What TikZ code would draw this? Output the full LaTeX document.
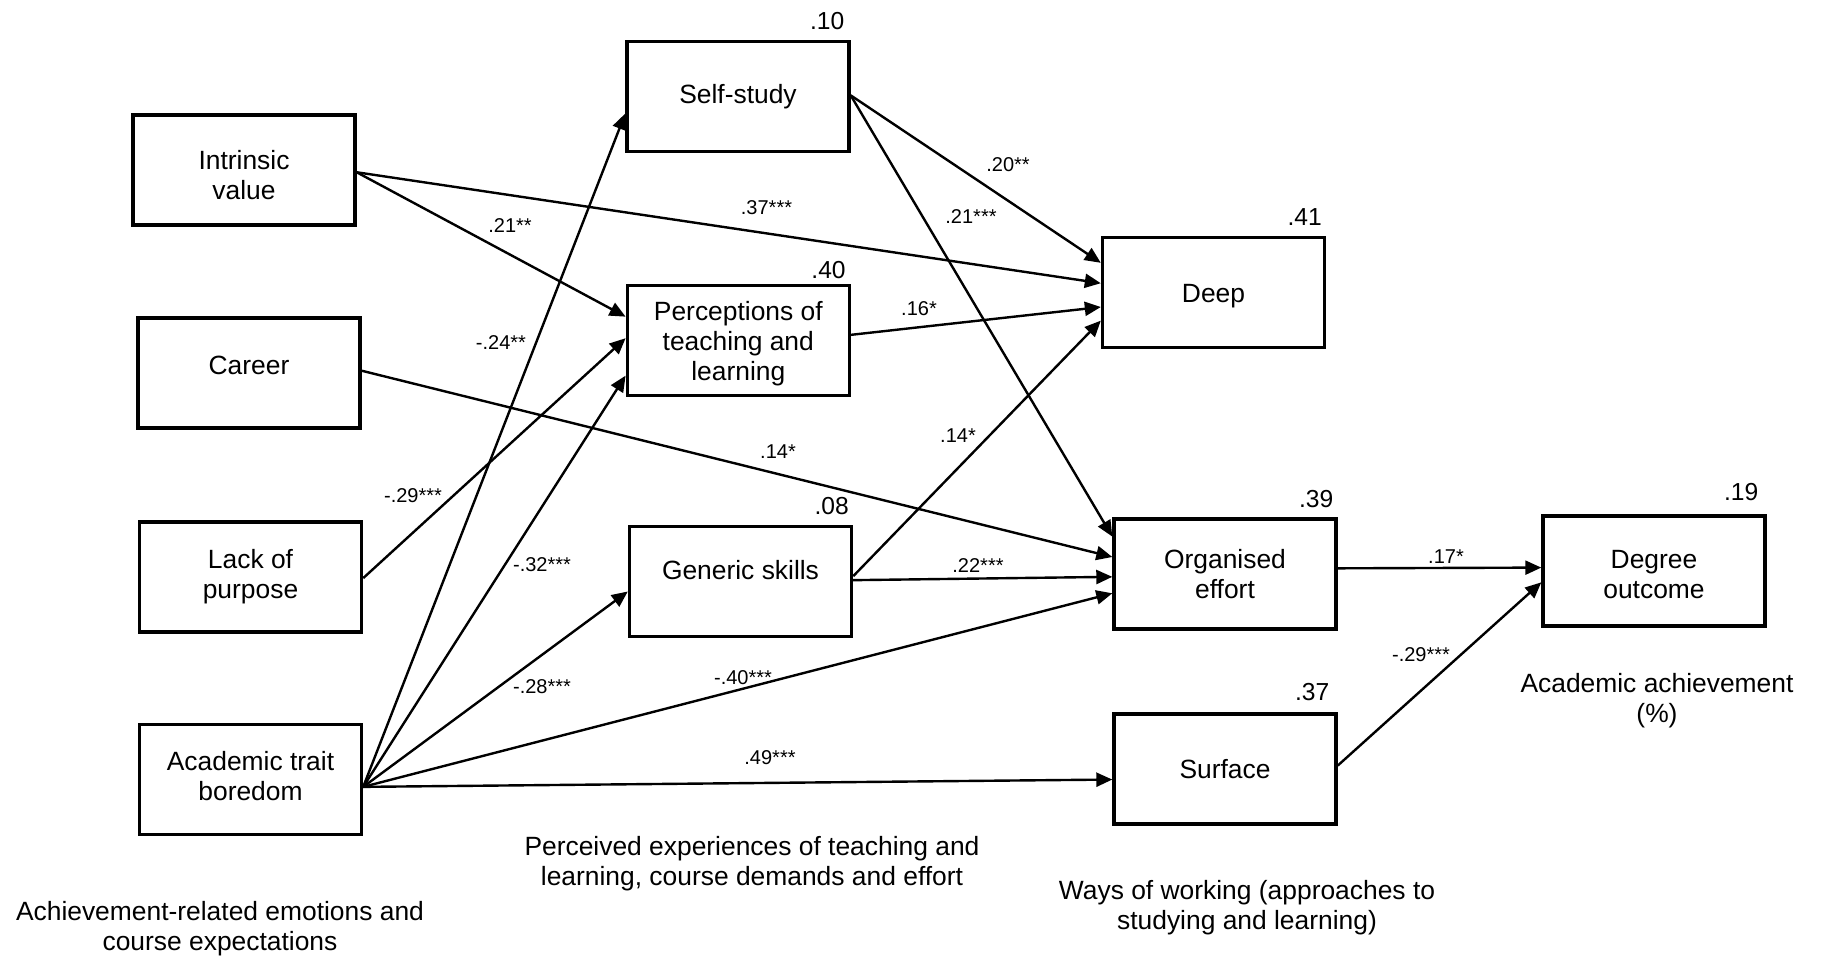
\documentclass[tikz,border=0pt]{standalone}
\usepackage{fontspec}
\setmainfont{Liberation Sans}
\usetikzlibrary{arrows.meta,calc}
\newcommand\vsh[2]{\raisebox{#1}[\height][\depth]{#2}}
\begin{document}
\begin{tikzpicture}[x=0.5pt,y=-0.5pt,
  box/.style={draw,line width=1.7pt,minimum width=111pt,minimum height=55pt,align=center,
    font=\fontsize{13.2}{15}\selectfont,inner sep=0pt},
  arr/.style={line width=1.2pt,-{Triangle[length=8pt,width=7pt]}},
  coef/.style={font=\fontsize{10}{12}\selectfont,inner sep=0pt},
  rsq/.style={font=\fontsize{12.3}{14}\selectfont,inner sep=0pt,anchor=base east},
  capt/.style={font=\fontsize{13.2}{15}\selectfont,align=center,inner sep=0pt}]
\useasboundingbox (0,0) rectangle (1821,956);

% boxes
\node[box] (intr) at (244,170) {\vsh{-2.3pt}{Intrinsic}\\\vsh{-2.3pt}{value}};
\node[box] (car) at (249,373) {\vsh{4pt}{Career}};
\node[box] (lack) at (250.5,577) {Lack of\\purpose};
\node[box] (bor) at (250.5,779.5) {\vsh{1.7pt}{Academic trait}\\\vsh{1.7pt}{boredom}};
\node[box] (self) at (738,96.5) {Self-study};
\node[box] (perc) at (738.3,340.5) {\vsh{-1.4pt}{Perceptions of}\\\vsh{-1.4pt}{teaching and}\\\vsh{-1.4pt}{learning}};
\node[box] (gen) at (740.5,581.3) {\vsh{5.8pt}{Generic skills}};
\node[box] (deep) at (1213.5,292.3) {\vsh{-1.7pt}{Deep}};
\node[box] (org) at (1225,574) {Organised\\effort};
\node[box] (surf) at (1225,769) {Surface};
\node[box] (deg) at (1654,571) {\vsh{-1.7pt}{Degree}\\\vsh{-1.7pt}{outcome}};

% R squared
\node[rsq] (rself) at ($(self.north east)+(-6,-10)$) {.10};
\node[rsq] (rperc) at ($(perc.north east)+(-5,-5)$) {.40};
\node[rsq] (rgen) at ($(gen.north east)+(-4,-10)$) {.08};
\node[rsq] (rdeep) at ($(deep.north east)+(-4,-10)$) {.41};
\node[rsq] (rorg) at ($(org.north east)+(-4,-10)$) {.39};
\node[rsq] (rsurf) at ($(surf.north east)+(-8,-12)$) {.37};
\node[rsq] (rdeg) at ($(deg.north east)+(-8,-14)$) {.19};

% paths
\draw[arr] ($(intr.north east)!0.52!(intr.south east)$) -- ($(deep.north west)!0.42!(deep.south west)$);
\draw[arr] ($(intr.north east)!0.52!(intr.south east)$) -- ($(perc.north west)!0.29!(perc.south west)$);
\draw[arr] ($(self.north east)!0.49!(self.south east)$) -- ($(deep.north west)!0.24!(deep.south west)$);
\draw[arr] ($(self.north east)!0.49!(self.south east)$) -- ($(org.north west)!0.17!(org.south west)$);
\draw[arr] ($(perc.north east)!0.45!(perc.south east)$) -- ($(deep.north west)!0.63!(deep.south west)$);
\draw[arr] ($(car.north east)!0.48!(car.south east)$) -- ($(org.north west)!0.35!(org.south west)$);
\draw[arr] ($(lack.north east)!0.51!(lack.south east)$) -- ($(perc.north west)!0.48!(perc.south west)$);
\draw[arr] ($(bor.north east)!0.565!(bor.south east)$) -- ($(self.north west)!0.65!(self.south west)$);
\draw[arr] ($(bor.north east)!0.565!(bor.south east)$) -- ($(perc.north west)!0.81!(perc.south west)$);
\draw[arr] ($(bor.north east)!0.565!(bor.south east)$) -- ($(gen.north west)!0.59!(gen.south west)$);
\draw[arr] ($(bor.north east)!0.565!(bor.south east)$) -- ($(org.north west)!0.67!(org.south west)$);
\draw[arr] ($(bor.north east)!0.565!(bor.south east)$) -- ($(surf.north west)!0.593!(surf.south west)$);
\draw[arr] ($(gen.north east)!0.455!(gen.south east)$) -- ($(deep.north west)!0.75!(deep.south west)$);
\draw[arr] ($(gen.north east)!0.49!(gen.south east)$) -- ($(org.north west)!0.525!(org.south west)$);
\draw[arr] ($(org.north east)!0.45!(org.south east)$) -- ($(deg.north west)!0.47!(deg.south west)$);
\draw[arr] ($(surf.north east)!0.47!(surf.south east)$) -- ($(deg.north west)!0.6!(deg.south west)$);

% coefficients
\node[coef] (c1) at (766.5,208) {.37***};
\node[coef] (c2) at (510,226) {.21**};
\node[coef] (c3) at (1008,165) {.20**};
\node[coef] (c4) at (971,217) {.21***};
\node[coef] (c5) at (919,309) {.16*};
\node[coef] (c6) at (778,452) {.14*};
\node[coef] (c7) at (413,495.5) {-.29***};
\node[coef] (c8) at (501,343) {-.24**};
\node[coef] (c9) at (542,565) {-.32***};
\node[coef] (c10) at (542,686.5) {-.28***};
\node[coef] (c11) at (743,678) {-.40***};
\node[coef] (c12) at (770,757.5) {.49***};
\node[coef] (c13) at (958,436) {.14*};
\node[coef] (c14) at (978,566) {.22***};
\node[coef] (c15) at (1446,557) {.17*};
\node[coef] (c16) at (1421,655) {-.29***};

% captions
\node[capt] (k1) at (220,929) {Achievement-related emotions and\\course expectations};
\node[capt] (k2) at (752,864) {Perceived experiences of teaching and\\learning, course demands and effort};
\node[capt] (k3) at (1247,908) {Ways of working (approaches to\\studying and learning)};
\node[capt] (k4) at (1657,701) {Academic achievement\\(\%)};
\end{tikzpicture}
\end{document}
